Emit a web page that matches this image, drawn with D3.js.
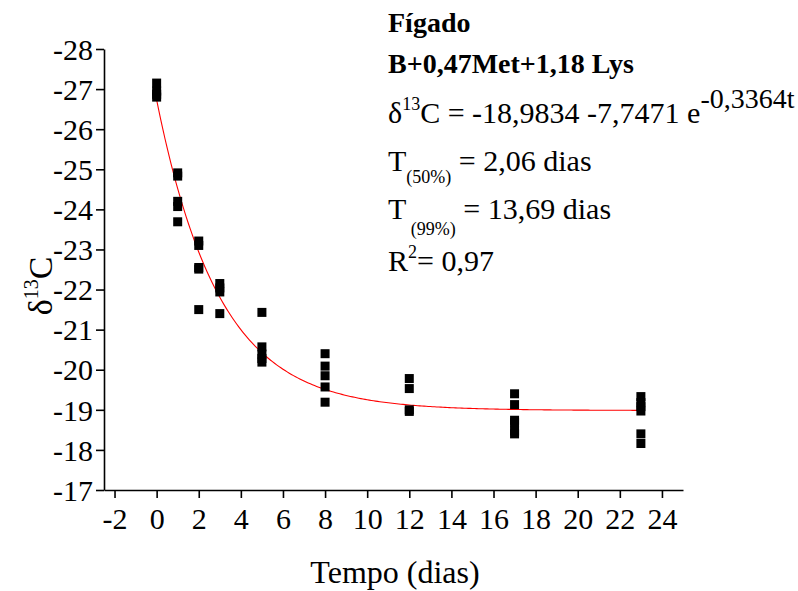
<!DOCTYPE html>
<html lang="en">
<head>
    <meta charset="UTF-8">
    <title></title>
    <script src="https://d3js.org/d3.v7.min.js"></script>
    <style>
        body { margin: 0; background: #fff; }
        svg text { font-family: "Liberation Serif", "Times New Roman", serif; fill: #000; }
    </style>
</head>
<body>

<script>
    // dados (dias, delta 13C)
    var days = [0, 0, 0, 0,
                1, 1, 1, 1, 1,
                2, 2, 2, 2, 2,
                3, 3, 3, 3,
                5, 5, 5, 5, 5,
                8, 8, 8, 8, 8,
                12, 12, 12, 12,
                17, 17, 17, 17, 17, 17,
                23, 23, 23, 23, 23, 23];
    var d13C = [-27.15, -26.95, -26.87, -26.8,
                -24.91, -24.83, -24.2, -24.07, -23.69,
                -23.21, -23.1, -22.55, -22.51, -21.5,
                -22.15, -22.04, -21.94, -21.4,
                -21.43, -20.57, -20.39, -20.28, -20.19,
                -20.4, -20.09, -19.85, -19.57, -19.19,
                -19.78, -19.53, -19.0, -18.96,
                -19.4, -19.13, -18.74, -18.68, -18.47, -18.4,
                -19.33, -19.18, -19.08, -18.97, -18.4, -18.16];

    var xTicks = [-2, 0, 2, 4, 6, 8, 10, 12, 14, 16, 18, 20, 22, 24];
    var yTicks = [-28, -27, -26, -25, -24, -23, -22, -21, -20, -19, -18, -17];

    // ajuste exponencial: y = a + b * exp(k t)
    var fitA = -18.9834, fitB = -7.7471, fitK = -0.3364;

    var width = 798,
            height = 591;

    var svg = d3.select("body").append("svg")
            .attr("width", width)
            .attr("height", height);

    var x = d3.scaleLinear().domain([-2.5, 25]).range([104, 683]);
    var y = d3.scaleLinear().domain([-28, -17]).range([49, 490]);

    // eixo x
    var gx = svg.append("g").attr("transform", "translate(0," + y(-17) + ")");
    gx.call(d3.axisBottom(x).tickValues(d3.range(-1, 26, 2)).tickSize(4).tickSizeOuter(0).tickFormat(""));
    gx.call(d3.axisBottom(x).tickValues(xTicks).tickSize(8).tickSizeOuter(0).tickFormat(function (d) { return String(d); }));
    gx.selectAll("text").attr("dy", 0).attr("y", 39).style("font-size", "30px");

    // eixo y
    var gy = svg.append("g").attr("transform", "translate(" + x(-2.5) + ",0)");
    gy.call(d3.axisLeft(y).tickValues(d3.range(-27.5, -17, 1)).tickSize(4).tickSizeOuter(0).tickFormat(""));
    gy.call(d3.axisLeft(y).tickValues(yTicks).tickSize(8).tickSizeOuter(0).tickFormat(function (d) { return String(d); }));
    gy.selectAll("text").attr("x", -11).attr("dy", "0.34em").style("font-size", "30px");

    svg.selectAll(".domain, .tick line").attr("stroke", "#000").attr("stroke-width", 1.6);
    svg.selectAll("g").attr("font-family", null).attr("font-size", null);

    // curva ajustada
    var tFit = d3.range(0, 23.01, 0.1);
    var line = d3.line()
            .x(function (t) { return x(t); })
            .y(function (t) { return y(fitA + fitB * Math.exp(fitK * t)); });
    svg.append("path")
            .datum(tFit)
            .attr("fill", "none")
            .attr("stroke", "#ff0000")
            .attr("stroke-width", 1.1)
            .attr("d", line);

    // pontos
    svg.selectAll("rect.pt")
            .data(days)
            .enter()
            .append("rect")
            .attr("class", "pt")
            .attr("x", function (d) { return x(d) - 4.5; })
            .attr("y", function (d, i) { return y(d13C[i]) - 4.5; })
            .attr("width", 9)
            .attr("height", 9)
            .attr("fill", "#000");

    // títulos dos eixos
    svg.append("text")
            .attr("x", 395)
            .attr("y", 583)
            .attr("text-anchor", "middle")
            .style("font-size", "32px")
            .text("Tempo (dias)");

    var ylab = svg.append("text")
            .attr("transform", "translate(52,286) rotate(-90)")
            .attr("text-anchor", "middle")
            .style("font-size", "34px");
    ylab.append("tspan").text("δ");
    ylab.append("tspan").attr("dy", -14).style("font-size", "20px").text("13");
    ylab.append("tspan").attr("dy", 14).text("C");

    // legenda do ajuste
    var tx = 388;
    svg.append("text").attr("x", tx).attr("y", 32)
            .style("font-size", "28px").style("font-weight", "bold").text("Fígado");
    svg.append("text").attr("x", tx).attr("y", 73)
            .style("font-size", "28px").style("font-weight", "bold").text("B+0,47Met+1,18 Lys");

    var eq = svg.append("text").attr("x", tx).attr("y", 123).style("font-size", "30px");
    eq.append("tspan").text("δ");
    eq.append("tspan").attr("dy", -13).style("font-size", "18px").text("13");
    eq.append("tspan").attr("dy", 13).text("C = -18,9834 -7,7471 e");
    eq.append("tspan").attr("dy", -15).style("font-size", "28px").text("-0,3364t");

    var t50 = svg.append("text").attr("x", tx).attr("y", 171).style("font-size", "30px");
    t50.append("tspan").text("T");
    t50.append("tspan").attr("dy", 12).style("font-size", "18px").text("(50%)");
    t50.append("tspan").attr("dy", -12).text(" = 2,06 dias");

    var t99 = svg.append("text").attr("x", tx).attr("y", 219).style("font-size", "30px");
    t99.append("tspan").text("T");
    t99.append("tspan").attr("dy", 16).style("font-size", "18px").text(" (99%)");
    t99.append("tspan").attr("dy", -16).text(" = 13,69 dias");

    var r2 = svg.append("text").attr("x", tx).attr("y", 271).style("font-size", "30px");
    r2.append("tspan").text("R");
    r2.append("tspan").attr("dy", -13).style("font-size", "18px").text("2");
    r2.append("tspan").attr("dy", 13).text("= 0,97");
</script>

</body>
</html>
